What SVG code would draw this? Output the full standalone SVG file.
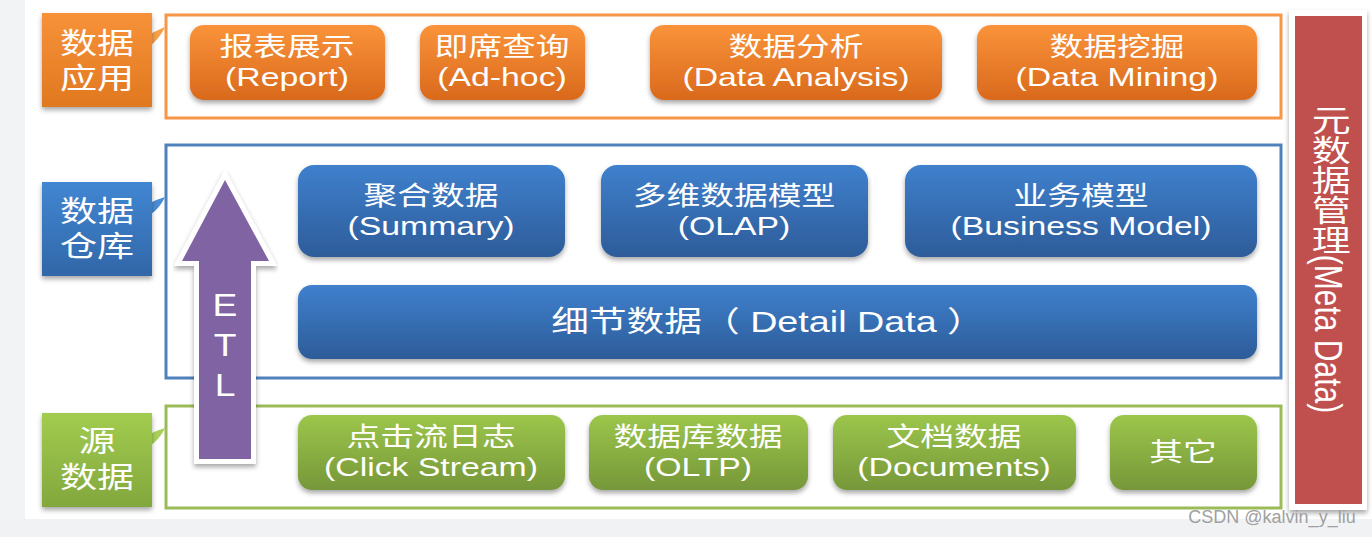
<svg xmlns="http://www.w3.org/2000/svg" width="1372" height="537" viewBox="0 0 1372 537">
<defs>
<linearGradient id="gOr" x1="0" y1="0" x2="0" y2="1"><stop offset="0" stop-color="#FA933A"/><stop offset="1" stop-color="#D9691C"/></linearGradient>
<linearGradient id="gBl" x1="0" y1="0" x2="0" y2="1"><stop offset="0" stop-color="#3F80CD"/><stop offset="1" stop-color="#2D5C99"/></linearGradient>
<linearGradient id="gGr" x1="0" y1="0" x2="0" y2="1"><stop offset="0" stop-color="#9CC64B"/><stop offset="1" stop-color="#769739"/></linearGradient>
<linearGradient id="lOr" x1="0" y1="0" x2="0" y2="1"><stop offset="0" stop-color="#F7923A"/><stop offset="1" stop-color="#E0781F"/></linearGradient>
<linearGradient id="lBl" x1="0" y1="0" x2="0" y2="1"><stop offset="0" stop-color="#4186D2"/><stop offset="1" stop-color="#3167A8"/></linearGradient>
<linearGradient id="lGr" x1="0" y1="0" x2="0" y2="1"><stop offset="0" stop-color="#A2CC4F"/><stop offset="1" stop-color="#82A73D"/></linearGradient>
<filter id="sh" x="-10%" y="-10%" width="120%" height="130%"><feDropShadow dx="0" dy="3" stdDeviation="2.5" flood-color="#000" flood-opacity="0.35"/></filter>
</defs>
<style>
text{font-family:"Liberation Sans","Noto Sans CJK SC",sans-serif;fill:#fff;text-anchor:middle;dominant-baseline:central}
.n{font-size:26px}
.lab{font-size:29px}
.fo{fill:#fff;stroke:#F79646;stroke-width:3}
.fb{fill:#fff;stroke:#4F81BD;stroke-width:3}
.fg{fill:#fff;stroke:#9BBB59;stroke-width:3}
</style>
<rect x="0" y="0" width="1372" height="537" fill="#fff"/>
<rect x="0" y="0" width="25" height="537" fill="#F2F3F5"/>
<rect x="0" y="519" width="1372" height="18" fill="#F1F2F4"/>

<g id="frames">
<rect class="fo" x="166" y="15" width="1115" height="103"/>
<rect class="fb" x="166" y="145" width="1115" height="233"/>
<rect class="fg" x="166" y="406" width="1115" height="102"/>
</g>

<g id="label-app">
<path d="M150,34 Q158,30 165,27 Q160,38 150,46 Z" fill="#F5A049"/>
<rect x="42" y="13" width="110" height="94" fill="url(#lOr)" filter="url(#sh)"/>
<text class="lab" transform="translate(97 0) scale(1.28 1)" x="0" y="44">数据</text>
<text class="lab" transform="translate(97 0) scale(1.28 1)" x="0" y="79">应用</text>
</g>
<g id="label-dw">
<path d="M150,203 Q158,199 165,197 Q160,208 150,215 Z" fill="#4A8CD6"/>
<rect x="42" y="182" width="110" height="94" fill="url(#lBl)" filter="url(#sh)"/>
<text class="lab" transform="translate(97 0) scale(1.28 1)" x="0" y="212">数据</text>
<text class="lab" transform="translate(97 0) scale(1.28 1)" x="0" y="247">仓库</text>
</g>
<g id="label-src">
<path d="M150,434 Q158,430 165,428 Q160,439 150,446 Z" fill="#A8D058"/>
<rect x="42" y="413" width="110" height="94" fill="url(#lGr)" filter="url(#sh)"/>
<text class="lab" transform="translate(97 0) scale(1.28 1)" x="0" y="442">源</text>
<text class="lab" transform="translate(97 0) scale(1.28 1)" x="0" y="478">数据</text>
</g>

<g id="n-report"><rect x="190" y="25" width="195" height="75" rx="14" fill="url(#gOr)" filter="url(#sh)"/>
<text class="n" transform="translate(287 0) scale(1.3 1)" x="0" y="47">报表展示</text>
<text class="n" transform="translate(287 0) scale(1.3 1)" x="0" y="77">(Report)</text></g>
<g id="n-adhoc"><rect x="420" y="25" width="165" height="75" rx="14" fill="url(#gOr)" filter="url(#sh)"/>
<text class="n" transform="translate(502 0) scale(1.3 1)" x="0" y="47">即席查询</text>
<text class="n" transform="translate(502 0) scale(1.3 1)" x="0" y="77">(Ad-hoc)</text></g>
<g id="n-analysis"><rect x="650" y="25" width="292" height="75" rx="14" fill="url(#gOr)" filter="url(#sh)"/>
<text class="n" transform="translate(796 0) scale(1.3 1)" x="0" y="47">数据分析</text>
<text class="n" transform="translate(796 0) scale(1.3 1)" x="0" y="77">(Data Analysis)</text></g>
<g id="n-mining"><rect x="977" y="25" width="280" height="75" rx="14" fill="url(#gOr)" filter="url(#sh)"/>
<text class="n" transform="translate(1117 0) scale(1.3 1)" x="0" y="47">数据挖掘</text>
<text class="n" transform="translate(1117 0) scale(1.3 1)" x="0" y="77">(Data Mining)</text></g>

<g id="n-summary"><rect x="298" y="165" width="267" height="92" rx="16" fill="url(#gBl)" filter="url(#sh)"/>
<text class="n" transform="translate(431 0) scale(1.3 1)" x="0" y="196">聚合数据</text>
<text class="n" transform="translate(431 0) scale(1.3 1)" x="0" y="226">(Summary)</text></g>
<g id="n-olap"><rect x="601" y="165" width="267" height="92" rx="16" fill="url(#gBl)" filter="url(#sh)"/>
<text class="n" transform="translate(734 0) scale(1.3 1)" x="0" y="196">多维数据模型</text>
<text class="n" transform="translate(734 0) scale(1.3 1)" x="0" y="226">(OLAP)</text></g>
<g id="n-business"><rect x="905" y="165" width="352" height="92" rx="16" fill="url(#gBl)" filter="url(#sh)"/>
<text class="n" transform="translate(1081 0) scale(1.3 1)" x="0" y="196">业务模型</text>
<text class="n" transform="translate(1081 0) scale(1.3 1)" x="0" y="226">(Business Model)</text></g>
<g id="n-detail"><rect x="298" y="285" width="959" height="74" rx="14" fill="url(#gBl)" filter="url(#sh)"/>
<text transform="translate(768 0) scale(1.3 1)" x="0" y="322" style="font-size:29px">细节数据（ Detail Data ）</text></g>

<g id="n-click"><rect x="298" y="415" width="267" height="75" rx="14" fill="url(#gGr)" filter="url(#sh)"/>
<text class="n" transform="translate(431 0) scale(1.3 1)" x="0" y="437">点击流日志</text>
<text class="n" transform="translate(431 0) scale(1.3 1)" x="0" y="467">(Click Stream)</text></g>
<g id="n-oltp"><rect x="589" y="415" width="219" height="75" rx="14" fill="url(#gGr)" filter="url(#sh)"/>
<text class="n" transform="translate(698 0) scale(1.3 1)" x="0" y="437">数据库数据</text>
<text class="n" transform="translate(698 0) scale(1.3 1)" x="0" y="467">(OLTP)</text></g>
<g id="n-docs"><rect x="833" y="415" width="243" height="75" rx="14" fill="url(#gGr)" filter="url(#sh)"/>
<text class="n" transform="translate(954 0) scale(1.3 1)" x="0" y="437">文档数据</text>
<text class="n" transform="translate(954 0) scale(1.3 1)" x="0" y="467">(Documents)</text></g>
<g id="n-other"><rect x="1110" y="415" width="147" height="75" rx="14" fill="url(#gGr)" filter="url(#sh)"/>
<text class="n" transform="translate(1183 0) scale(1.3 1)" x="0" y="452">其它</text></g>

<g id="n-meta">
<rect x="1289" y="10" width="78" height="500" fill="#fff" filter="url(#sh)"/>
<rect x="1295" y="16" width="67" height="488" fill="#C0504D"/>
<text transform="translate(1328 0) scale(1.3 1)" x="0" y="259" style="font-size:30px;writing-mode:vertical-rl">元数据管理(Meta Data)</text>
</g>

<g id="connectors">
<path d="M225,180 L269,261 L251,261 L251,459 L199,459 L199,261 L182,261 Z" fill="#8064A2" stroke="#fff" stroke-width="10" paint-order="stroke" stroke-linejoin="miter" filter="url(#sh)"/>
<text transform="translate(225 0) scale(1.2 1)" x="0" y="305" style="font-size:31px">E</text>
<text transform="translate(225 0) scale(1.2 1)" x="0" y="345" style="font-size:31px">T</text>
<text transform="translate(225 0) scale(1.2 1)" x="0" y="385" style="font-size:31px">L</text>
</g>

<text x="1272" y="517" style="font-size:18px;fill:#A0A0A0">CSDN @kalvin_y_liu</text>
</svg>
